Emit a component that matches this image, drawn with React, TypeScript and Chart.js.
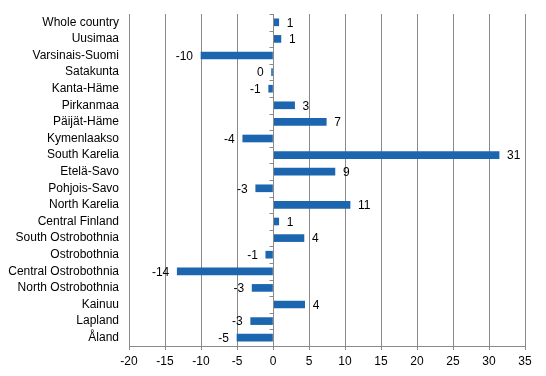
import React, { useEffect, useRef } from "react";
import Chart from "chart.js/auto";

const categories = [
  "Whole country", "Uusimaa", "Varsinais-Suomi", "Satakunta", "Kanta-Häme",
  "Pirkanmaa", "Päijät-Häme", "Kymenlaakso", "South Karelia", "Etelä-Savo",
  "Pohjois-Savo", "North Karelia", "Central Finland", "South Ostrobothnia",
  "Ostrobothnia", "Central Ostrobothnia", "North Ostrobothnia", "Kainuu",
  "Lapland", "Åland",
];
const values = [
  0.8, 1.1, -10.0, -0.2, -0.6, 3.0, 7.4, -4.2, 31.4, 8.6,
  -2.4, 10.7, 0.8, 4.3, -1.0, -13.3, -2.9, 4.4, -3.1, -5.0,
];
const valueLabels = [
  "1", "1", "-10", "0", "-1", "3", "7", "-4", "31", "9",
  "-3", "11", "1", "4", "-1", "-14", "-3", "4", "-3", "-5",
];
const xMin = -20;
const xMax = 35;
const xStep = 5;

const FONT = "'Liberation Sans', Arial, sans-serif";
const GRID = "#8a8a8a";
const BAR = "#1c66b0";

const labelPlugin = {
  id: "valueLabels",
  afterDatasetsDraw(chart: any) {
    const ctx = chart.ctx;
    const meta = chart.getDatasetMeta(0);
    ctx.save();
    ctx.font = `12px ${FONT}`;
    ctx.fillStyle = "#000";
    ctx.textBaseline = "middle";
    meta.data.forEach((el: any, i: number) => {
      const v = values[i];
      if (v >= 0) {
        ctx.textAlign = "left";
        ctx.fillText(valueLabels[i], el.x + 8, el.y + 1);
      } else {
        ctx.textAlign = "right";
        ctx.fillText(valueLabels[i], el.x - 8, el.y + 1);
      }
    });
    ctx.restore();
  },
};

const zeroAxisPlugin = {
  id: "zeroAxis",
  afterDatasetsDraw(chart: any) {
    const ctx = chart.ctx;
    const xs = chart.scales.x;
    const area = chart.chartArea;
    const x0 = Math.round(xs.getPixelForValue(0)) + 0.5;
    const n = categories.length;
    const band = (area.bottom - area.top) / n;
    ctx.save();
    ctx.strokeStyle = GRID;
    ctx.lineWidth = 1;
    ctx.beginPath();
    ctx.moveTo(x0, area.top);
    ctx.lineTo(x0, area.bottom);
    for (let k = 0; k <= n; k++) {
      const y = Math.round(area.top + k * band) + 0.5;
      ctx.moveTo(x0 - 4, y);
      ctx.lineTo(x0, y);
    }
    ctx.stroke();
    ctx.restore();
  },
};

export default function App() {
  const ref = useRef<HTMLCanvasElement | null>(null);
  useEffect(() => {
    if (!ref.current) return;
    const chart = new Chart(ref.current, {
      type: "bar",
      data: {
        labels: categories,
        datasets: [
          {
            data: values,
            backgroundColor: BAR,
            borderWidth: 0,
            barThickness: 7,
          },
        ],
      },
      options: {
        indexAxis: "y",
        responsive: false,
        animation: false,
        devicePixelRatio: 1,
        layout: { padding: { top: 14, right: 21, left: 0, bottom: 0 } },
        plugins: {
          legend: { display: false },
          tooltip: { enabled: false },
        },
        scales: {
          x: {
            type: "linear",
            min: xMin,
            max: xMax,
            ticks: {
              stepSize: xStep,
              color: "#000",
              font: { family: FONT, size: 12 },
              padding: 4,
            },
            grid: {
              color: GRID,
              lineWidth: 1,
              drawTicks: true,
              tickLength: 4,
            },
            border: { display: true, color: GRID },
            afterFit(scale: any) {
              scale.height = 30;
              scale.paddingLeft = 0;
              scale.paddingRight = 0;
            },
          },
          y: {
            type: "category",
            ticks: {
              color: "#000",
              font: { family: FONT, size: 12 },
              padding: 10,
              autoSkip: false,
            },
            grid: { display: false, drawTicks: false },
            border: { display: false },
            afterFit(scale: any) {
              scale.width = 129;
              scale.paddingTop = 0;
              scale.paddingBottom = 0;
            },
          },
        },
      },
      plugins: [labelPlugin, zeroAxisPlugin],
    });
    return () => chart.destroy();
  }, []);
  return (
    <div style={{ position: "absolute", left: 0, top: 0, width: 546, height: 376, background: "#fff" }}>
      <canvas ref={ref} width={546} height={376} />
    </div>
  );
}
